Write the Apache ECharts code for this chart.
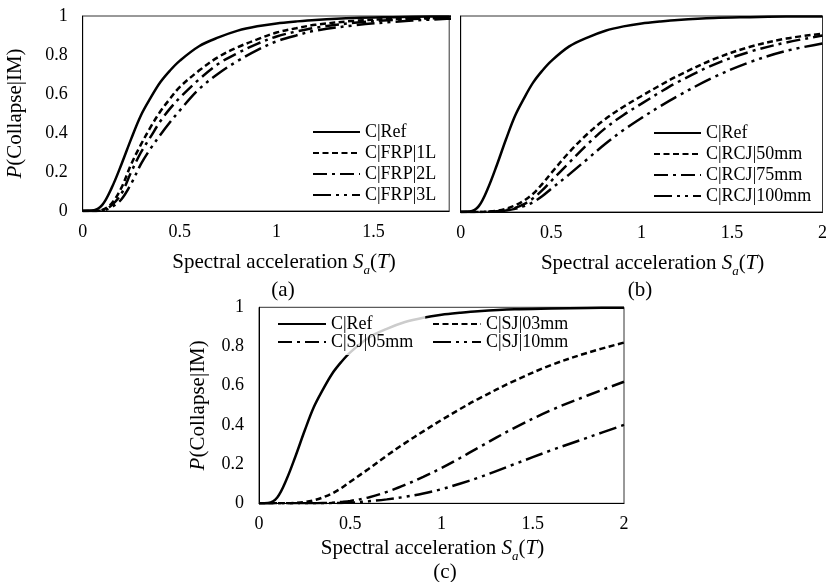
<!DOCTYPE html>
<html>
<head>
<meta charset="utf-8">
<script src="https://cdn.jsdelivr.net/npm/echarts@6/dist/echarts.min.js"></script>
<style>html,body{margin:0;padding:0;background:#fff}#c{width:830px;height:582px}</style>
</head>
<body>
<div id="c"></div>
<script>
// Spectral acceleration sample points
const sa = [0,0.05,0.1,0.15,0.2,0.25,0.3,0.35,0.4,0.45,0.5,0.6,0.7,0.8,0.9,1.0,1.1,1.2,1.4,1.6,1.8,2.0];
// Collapse probabilities
const refP   = [0,0.002,0.03,0.12,0.24,0.37,0.49,0.58,0.66,0.72,0.77,0.845,0.89,0.925,0.947,0.962,0.972,0.98,0.99,0.994,0.997,0.998];
const frp1L  = [0,0,0.005,0.04,0.12,0.24,0.34,0.43,0.51,0.575,0.635,0.72,0.79,0.84,0.88,0.915,0.937,0.955,0.975,0.985,0.99,0.995];
const frp2L  = [0,0,0.003,0.03,0.09,0.2,0.3,0.38,0.46,0.525,0.58,0.675,0.755,0.81,0.857,0.895,0.92,0.94,0.965,0.98,0.988,0.993];
const frp3L  = [0,0,0.002,0.02,0.06,0.14,0.24,0.32,0.39,0.455,0.515,0.625,0.705,0.77,0.825,0.87,0.9,0.925,0.952,0.97,0.982,0.99];
const rcj50  = [0,0,0,0.002,0.006,0.016,0.033,0.058,0.093,0.142,0.198,0.305,0.398,0.475,0.537,0.592,0.645,0.695,0.78,0.843,0.885,0.91];
const rcj75  = [0,0,0,0.001,0.004,0.01,0.021,0.04,0.07,0.11,0.158,0.252,0.345,0.428,0.495,0.553,0.61,0.663,0.752,0.818,0.865,0.90];
const rcj100 = [0,0,0,0.001,0.003,0.008,0.016,0.03,0.05,0.08,0.118,0.192,0.27,0.348,0.418,0.48,0.538,0.592,0.688,0.765,0.822,0.86];
const sj03   = [0,0,0,0,0.002,0.006,0.015,0.03,0.05,0.077,0.11,0.175,0.243,0.307,0.367,0.425,0.48,0.532,0.625,0.705,0.768,0.82];
const sj05   = [0,0,0,0,0,0,0,0.001,0.003,0.007,0.012,0.03,0.058,0.094,0.135,0.18,0.23,0.283,0.385,0.475,0.55,0.62];
const sj10   = [0,0,0,0,0,0,0,0,0.001,0.002,0.003,0.01,0.02,0.033,0.05,0.072,0.1,0.13,0.2,0.27,0.335,0.40];
const panelLabels = ['(a)','(b)','(c)'];

const FONT = 'Liberation Serif';
const pairs = arr => sa.map((x,i)=>[x,arr[i]]);
const styles = {
  solid: 'solid',
  dash: [6,3.5],
  dashDot: [14,5,3,5],
  dashDotDot: [18,5,3,5,3,5]
};
function mk(name, arr, idx, st){
  return {
    name, type:'line', xAxisIndex:idx, yAxisIndex:idx, data:pairs(arr),
    symbol:'none', smooth:0.35,
    lineStyle:{color:'#000', width:2.5, type:styles[st], cap:'butt'},
    itemStyle:{color:'#000'}, z:2
  };
}
const xName = '{t|Spectral acceleration }{i|S}{s|a}{t|(}{i|T}{t|)}';
function xNameStyle(pad){
  return {
    fontFamily:FONT, fontSize:21, color:'#000', padding:pad,
    rich:{
      t:{fontFamily:FONT,fontSize:21,color:'#000',lineHeight:30},
      i:{fontFamily:FONT,fontSize:21,fontStyle:'italic',color:'#000',lineHeight:30},
      s:{fontFamily:FONT,fontSize:13,fontStyle:'italic',color:'#000',lineHeight:12,verticalAlign:'bottom'}
    }
  };
}
const yName = '{i|P}{t|(Collapse|IM)}';
const yNameStyle = {
  fontFamily:FONT, fontSize:21, color:'#000',
  rich:{
    t:{fontFamily:FONT,fontSize:21,color:'#000'},
    i:{fontFamily:FONT,fontSize:21,fontStyle:'italic',color:'#000'}
  }
};
const lblX = {fontFamily:FONT,fontSize:18,color:'#000',margin:12,
  formatter:v=> (Math.abs(v*2-Math.round(v*2))<1e-6 ? String(v) : '')};
const lblY = {fontFamily:FONT,fontSize:18,color:'#000',margin:15};
function xAx(idx,max,gap,pad){
  return {type:'value',gridIndex:idx,min:0,max:max,interval:0.5,
    axisLine:{show:true,lineStyle:{color:'#000',width:1}},axisTick:{show:false},splitLine:{show:false},
    axisLabel:lblX,name:xName,nameLocation:'middle',nameGap:gap,nameTextStyle:xNameStyle(pad)};
}
function yAx(idx,showLbl){
  const o = {type:'value',gridIndex:idx,min:0,max:1,interval:0.2,
    axisLine:{show:true,lineStyle:{color:'#000',width:1}},axisTick:{show:false},splitLine:{show:false},
    axisLabel:Object.assign({show:showLbl},lblY)};
  if(showLbl){ o.name=yName; o.nameLocation='middle'; o.nameRotate=90; o.nameGap = idx===0?57:50; o.nameTextStyle=yNameStyle; }
  return o;
}
const legText = {fontFamily:FONT,fontSize:18,color:'#000'};
const legItem = {color:'rgba(0,0,0,0)',borderWidth:0,opacity:0};
const gridBase = {show:true,borderColor:'#333',borderWidth:1,backgroundColor:'transparent'};

const option = {
  animation:false,
  backgroundColor:'#fff',
  grid:[
    Object.assign({left:82.7,top:16,width:366.5,height:195},gridBase),
    Object.assign({left:460.7,top:16,width:365.3,height:196},gridBase),
    Object.assign({left:259,top:307.3,width:365,height:196},gridBase)
  ],
  xAxis:[xAx(0,1.89,36,[0,0,0,36]),xAx(1,2,36,[0,0,0,22]),xAx(2,2,30,[0,18,0,0])],
  yAxis:[yAx(0,true),yAx(1,false),yAx(2,true)],
  legend:[
    {orient:'vertical',left:312,top:123,itemWidth:47,itemHeight:14,itemGap:3,padding:0,textStyle:legText,itemStyle:legItem,
     data:['C|Ref','C|FRP|1L','C|FRP|2L','C|FRP|3L']},
    {orient:'vertical',left:653,top:124,itemWidth:47,itemHeight:14,itemGap:3,padding:0,textStyle:legText,itemStyle:legItem,
     data:['C|Ref ','C|RCJ|50mm','C|RCJ|75mm','C|RCJ|100mm']},
    {orient:'vertical',left:262,top:309,itemWidth:48,itemHeight:14,itemGap:0,padding:[6,12,4,15],
     backgroundColor:'rgba(255,255,255,0.8)',textStyle:legText,itemStyle:legItem,
     data:['C|Ref  ','C|SJ|05mm']},
    {orient:'vertical',left:432,top:315,itemWidth:48,itemHeight:14,itemGap:0,padding:0,textStyle:legText,itemStyle:legItem,
     data:['C|SJ|03mm','C|SJ|10mm']}
  ],
  series:[
    mk('C|Ref',refP,0,'solid'),
    mk('C|FRP|1L',frp1L,0,'dash'),
    mk('C|FRP|2L',frp2L,0,'dashDot'),
    mk('C|FRP|3L',frp3L,0,'dashDotDot'),
    mk('C|Ref ',refP,1,'solid'),
    mk('C|RCJ|50mm',rcj50,1,'dash'),
    mk('C|RCJ|75mm',rcj75,1,'dashDot'),
    mk('C|RCJ|100mm',rcj100,1,'dashDotDot'),
    mk('C|Ref  ',refP,2,'solid'),
    mk('C|SJ|03mm',sj03,2,'dash'),
    mk('C|SJ|05mm',sj05,2,'dashDot'),
    mk('C|SJ|10mm',sj10,2,'dashDotDot')
  ],
  graphic:[
    {type:'text',x:283,y:290,style:{text:panelLabels[0],font:'21px "Liberation Serif"',fill:'#000',textAlign:'center',textVerticalAlign:'middle'}},
    {type:'text',x:640,y:290,style:{text:panelLabels[1],font:'21px "Liberation Serif"',fill:'#000',textAlign:'center',textVerticalAlign:'middle'}},
    {type:'text',x:445,y:572,style:{text:panelLabels[2],font:'21px "Liberation Serif"',fill:'#000',textAlign:'center',textVerticalAlign:'middle'}}
  ]
};
const chart = echarts.init(document.getElementById('c'),null,{renderer:'canvas'});
chart.setOption(option);
</script>
</body>
</html>
